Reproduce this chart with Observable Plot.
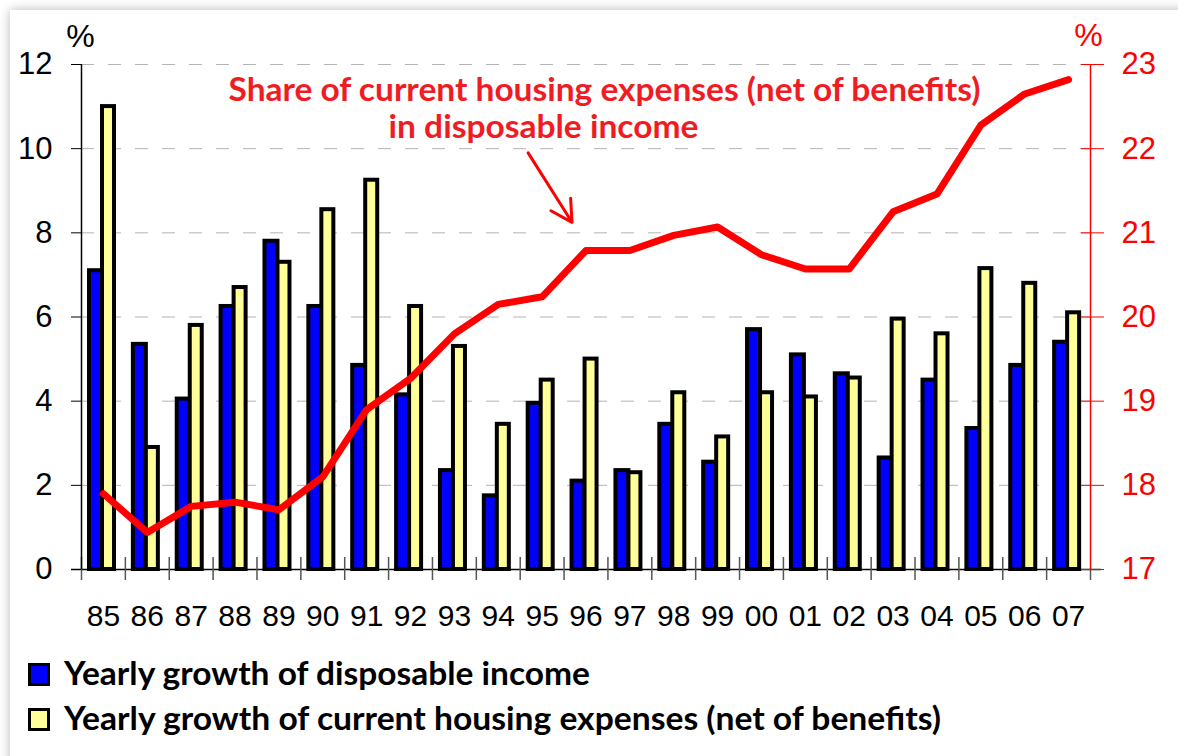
<!DOCTYPE html>
<html>
<head>
<meta charset="utf-8">
<script src="https://cdn.jsdelivr.net/npm/d3@7"></script>
<script src="https://cdn.jsdelivr.net/npm/@observablehq/plot@0.6"></script>
<style>
  html, body { margin: 0; padding: 0; background: #fff; }
  body { width: 1178px; height: 756px; overflow: hidden; position: relative; font-family: "Liberation Sans", Arial, sans-serif; }
  #card { position: absolute; left: 10px; top: 10px; width: 1300px; height: 900px; background: #fff; box-shadow: 0 0 10px rgba(0,0,0,0.28); }
  #chart { position: absolute; left: 0; top: 0; }
  .sw { position: absolute; left: 28px; width: 16px; height: 17px; border: 3px solid #000; }
  .lt { position: absolute; left: 64px; font-family: Lato, "Open Sans", sans-serif; font-weight: bold; font-size: 32px; line-height: 32px; white-space: nowrap; color: #000; transform-origin: left center; }
</style>
</head>
<body>
<div id="card"></div>
<div id="chart"></div>
<div class="sw" style="top:663px;background:#0000ff"></div>
<div class="lt" id="lt1" style="top:657px">Yearly growth of disposable income</div>
<div class="sw" style="top:708px;background:#ffff99"></div>
<div class="lt" id="lt2" style="top:702px">Yearly growth of current housing expenses (net of benefits)</div>
<script>
const years = ["85","86","87","88","89","90","91","92","93","94","95","96","97","98","99","00","01","02","03","04","05","06","07"];
const incomeGrowth = [7.1, 5.35, 4.05, 6.25, 7.8, 6.25, 4.85, 4.15, 2.35, 1.75, 3.95, 2.1, 2.35, 3.45, 2.55, 5.7, 5.1, 4.65, 2.65, 4.5, 3.35, 4.85, 5.4];
const housingGrowth = [11.0, 2.9, 5.8, 6.7, 7.3, 8.55, 9.25, 6.25, 5.3, 3.45, 4.5, 5.0, 2.3, 4.2, 3.15, 4.2, 4.1, 4.55, 5.95, 5.6, 7.15, 6.8, 6.1];
const housingShare = [17.9, 17.44, 17.75, 17.8, 17.71, 18.1, 18.9, 19.27, 19.8, 20.15, 20.24, 20.79, 20.79, 20.97, 21.07, 20.74, 20.57, 20.57, 21.25, 21.46, 22.28, 22.65, 22.82];
const leftTicks = [0, 2, 4, 6, 8, 10, 12];
const rightTicks = [17, 18, 19, 20, 21, 22, 23];
const annotationLines = ["Share of current housing expenses (net of benefits)", "in disposable income"];

const rows = years.map((year, i) => ({year, income: incomeGrowth[i], housing: housingGrowth[i], share: housingShare[i]}));
const toLeft = v => (v - rightTicks[0]) * (leftTicks[leftTicks.length - 1] / (rightTicks[rightTicks.length - 1] - rightTicks[0]));

const W = 1178, H = 645, mL = 81, mR = 88, mT = 64, mB = 76;
const bw = (W - mL - mR) / years.length;
const font = "'Liberation Sans', Arial, sans-serif";
const ann = "Lato, 'Open Sans', sans-serif";

const chart = Plot.plot({
  width: W, height: H,
  marginLeft: mL, marginRight: mR, marginTop: mT, marginBottom: mB,
  style: {background: "transparent", fontFamily: font, overflow: "visible", color: "#000"},
  x: {domain: years, padding: 0, round: false, axis: null},
  y: {domain: [0, 12], axis: null},
  marks: [
    Plot.gridY({ticks: leftTicks.filter(d => d > 0), stroke: "#b4b4b4", strokeOpacity: 1, strokeDasharray: "13,14"}),
    Plot.barY(rows, {x: "year", y: "income", fill: "#0000ff", stroke: "#000", strokeWidth: 4, insetLeft: 8, insetRight: bw - 21}),
    Plot.barY(rows, {x: "year", y: "housing", fill: "#ffff99", stroke: "#000", strokeWidth: 4, insetLeft: 21, insetRight: bw - 33}),
    Plot.ruleY([0], {stroke: "#000", strokeWidth: 1.5, insetLeft: -10, insetRight: -11}),
    Plot.ruleX(years, {x: d => d, dx: -bw / 2, y1: 0, y2: 0, insetTop: -12, insetBottom: -11, stroke: "#555", strokeWidth: 1.5}),
    Plot.ruleX([years[years.length - 1]], {x: d => d, dx: bw / 2, y1: 0, y2: 0, insetTop: -1, insetBottom: -11, stroke: "#555", strokeWidth: 1.5}),
    Plot.ruleX([years[0]], {x: d => d, dx: -bw / 2, stroke: "#000", strokeWidth: 1.5}),
    Plot.ruleX([years[years.length - 1]], {x: d => d, dx: bw / 2, stroke: "red", strokeWidth: 1.5}),
    Plot.axisY({ticks: leftTicks, tickSize: 10, tickPadding: 19, fontSize: 31, label: null, tickFormat: d => String(d)}),
    Plot.axisY({anchor: "right", ticks: rightTicks.map(toLeft), tickFormat: (d, i) => String(rightTicks[i]), tickSize: 23, dx: -10, tickPadding: 18, fontSize: 31, label: null, color: "red"}),
    Plot.axisX({tickSize: 0, tickPadding: 35, fontSize: 30, label: null}),
    Plot.line(rows, {x: "year", y: d => toLeft(d.share), stroke: "red", strokeWidth: 7}),
    Plot.text(["%"], {frameAnchor: "top-left", dx: -1, dy: -18, textAnchor: "middle", lineAnchor: "bottom", fontSize: 32, fill: "#000"}),
    Plot.text(["%"], {frameAnchor: "top-right", dx: -2, dy: -19, textAnchor: "middle", lineAnchor: "bottom", fontSize: 32, fill: "red"}),
    Plot.text([annotationLines[0]], {frameAnchor: "top-left", dx: 147, dy: 36, textAnchor: "start", lineAnchor: "bottom", fontSize: 32, fontWeight: "bold", fontFamily: ann, fill: "#f01c24"}),
    Plot.text([annotationLines[1]], {frameAnchor: "top-left", dx: 307, dy: 73, textAnchor: "start", lineAnchor: "bottom", fontSize: 32, fontWeight: "bold", fontFamily: ann, fill: "#f01c24"}),
    Plot.arrow([{}], {x1: () => years[10], x2: () => years[11], y1: () => 9.9, y2: () => 8.25, dx: -14, stroke: "red", strokeWidth: 3, headLength: 12, headAngle: 58})
  ]
});
document.getElementById("chart").appendChild(chart);

// fit annotation text widths to the reference
const targets = new Map([[annotationLines[0], 752], [annotationLines[1], 310]]);
d3.select(chart).selectAll("text").each(function () {
  const t = this.textContent;
  if (targets.has(t)) {
    this.setAttribute("textLength", targets.get(t));
    this.setAttribute("lengthAdjust", "spacingAndGlyphs");
  }
});
// fit legend text widths
[["lt1", 526], ["lt2", 877]].forEach(([id, w]) => {
  const el = document.getElementById(id);
  const m = el.getBoundingClientRect().width;
  el.style.transform = `scaleX(${w / m})`;
});
</script>
</body>
</html>
